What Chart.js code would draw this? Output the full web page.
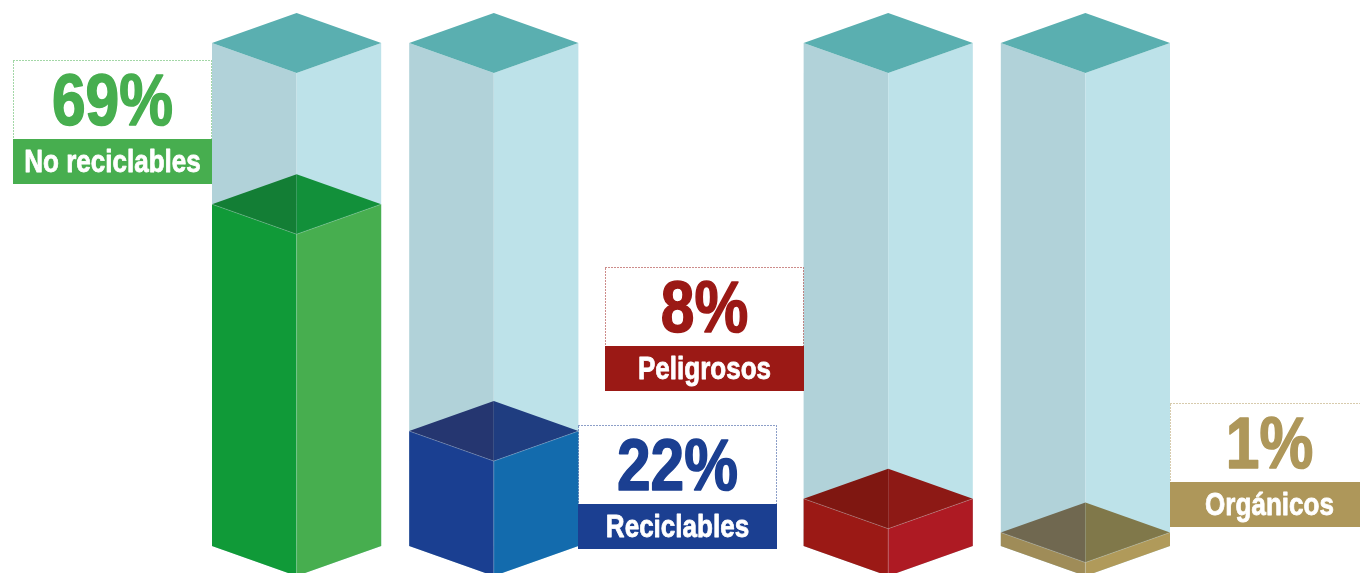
<!DOCTYPE html>
<html>
<head>
<meta charset="utf-8">
<script src="https://cdn.jsdelivr.net/npm/chart.js@4/dist/chart.umd.min.js"></script>
<style>
    html, body { margin: 0; padding: 0; background: #ffffff; }
    #waste_chart { display: block; }
</style>
</head>
<body>
<canvas id="waste_chart" width="1360" height="573"></canvas>
<script>
// data
const categories = ['No reciclables', 'Reciclables', 'Peligrosos', 'Orgánicos'];
const percent_values = [69, 22, 8, 1];
const label_sides = ['left', 'right', 'left', 'right'];

// colours per column: [top left, top right, front left, front right, label]
const column_colors = [
    ['#137e35', '#12903a', '#109a38', '#47ae4f', '#47ae4f'],
    ['#253670', '#1f3d80', '#1a3f91', '#136bad', '#1b3f91'],
    ['#7f1711', '#8d1915', '#9b1915', '#ae1a23', '#9b1915'],
    ['#706850', '#80784a', '#9f8c58', '#b09a5a', '#ae975a']
];
const glass_left = '#b1d2d9';
const glass_right = '#bde2e9';
const glass_top = '#5aafb0';

// label box tops in px (layout only)
const label_tops = [60, 425, 267, 403];

// chart labels with an empty slot between the two pairs of columns
const chart_labels = [categories[0], categories[1], '', categories[2], categories[3]];
const chart_values = [percent_values[0], percent_values[1], null, percent_values[2], percent_values[3]];

const depth = 30;

function fill_poly(ctx, points, color) {
    ctx.beginPath();
    ctx.moveTo(points[0][0], points[0][1]);
    for (let i = 1; i < points.length; i++) {
        ctx.lineTo(points[i][0], points[i][1]);
    }
    ctx.closePath();
    ctx.fillStyle = color;
    ctx.fill();
}

function draw_text(ctx, text, x, y, size, color, weight_px) {
    ctx.save();
    ctx.textAlign = 'center';
    ctx.textBaseline = 'alphabetic';
    ctx.fillStyle = color;
    ctx.strokeStyle = color;
    ctx.lineWidth = weight_px;
    ctx.lineJoin = 'round';
    ctx.font = 'bold ' + size + 'px "Liberation Sans", Arial, sans-serif';
    ctx.translate(x, y);
    ctx.scale(0.84, 1);
    ctx.fillText(text, 0, 0);
    ctx.strokeText(text, 0, 0);
    ctx.restore();
}

function draw_label(ctx, box_left, box_top, color, percent_text, name_text) {
    const box_width = 199;
    const dotted_height = 79;
    const solid_height = 45;
    const cx = box_left + box_width / 2;

    ctx.save();
    ctx.strokeStyle = color;
    ctx.lineWidth = 1;
    ctx.setLineDash([1, 2]);
    ctx.strokeRect(box_left + 0.5, box_top + 0.5, box_width - 1, dotted_height);
    ctx.restore();

    ctx.fillStyle = color;
    ctx.fillRect(box_left, box_top + dotted_height, box_width, solid_height);

    draw_text(ctx, percent_text, cx, box_top + 65, 72, color, 1.6);
    draw_text(ctx, name_text, cx, box_top + dotted_height + 33, 31, '#ffffff', 0.8);
}

const column_plugin = {
    id: 'column_plugin',
    afterDatasetsDraw(chart) {
        const ctx = chart.ctx;
        const y_scale = chart.scales.y;
        const top = y_scale.getPixelForValue(y_scale.max);
        const bottom = y_scale.getPixelForValue(y_scale.min);
        const meta = chart.getDatasetMeta(0);

        let col = 0;
        meta.data.forEach(function (bar, index) {
            if (chart_values[index] === null) return;
            const colors = column_colors[col];
            const p = bar.getProps(['x', 'y', 'width'], true);
            const left = p.x - p.width / 2;
            const right = p.x + p.width / 2;
            const x = p.x;
            const y = p.y;

            // glass
            fill_poly(ctx, [[left, top], [x, top + depth], [x, bottom + depth], [left, bottom]], glass_left);
            fill_poly(ctx, [[x, top + depth], [right, top], [right, bottom], [x, bottom + depth]], glass_right);

            // filled part
            fill_poly(ctx, [[left, y], [x, y + depth], [x, bottom + depth], [left, bottom]], colors[2]);
            fill_poly(ctx, [[x, y + depth], [right, y], [right, bottom], [x, bottom + depth]], colors[3]);
            fill_poly(ctx, [[left, y], [x, y - depth], [x, y + depth]], colors[0]);
            fill_poly(ctx, [[x, y - depth], [right, y], [x, y + depth]], colors[1]);

            ctx.save();
            ctx.strokeStyle = 'rgba(255,255,255,0.22)';
            ctx.lineWidth = 1;
            ctx.beginPath();
            ctx.moveTo(left, y);
            ctx.lineTo(x, y + depth);
            ctx.lineTo(right, y);
            ctx.moveTo(x, y + depth);
            ctx.lineTo(x, bottom + depth);
            ctx.stroke();
            ctx.restore();

            // glass lid
            fill_poly(ctx, [[left, top], [x, top - depth], [right, top], [x, top + depth]], glass_top);

            // label box next to the column
            const box_left = label_sides[col] === 'left' ? left - 199 : right;
            draw_label(ctx, Math.round(box_left), label_tops[col], colors[4],
                percent_values[col] + '%', categories[col]);
            col++;
        });
    }
};

const waste_chart = document.getElementById('waste_chart');

new Chart(waste_chart, {
    type: 'bar',
    data: {
        labels: chart_labels,
        datasets: [{
            data: chart_values,
            backgroundColor: 'rgba(0,0,0,0)',
            borderWidth: 0,
            categoryPercentage: 1,
            barPercentage: 0.858
        }]
    },
    options: {
        responsive: false,
        devicePixelRatio: 1,
        animation: false,
        layout: {
            padding: { left: 198, right: 176, top: 43, bottom: 27 }
        },
        plugins: {
            legend: false,
            tooltip: { enabled: false }
        },
        scales: {
            x: { display: false },
            y: { display: false, min: -1.8, max: 102.4 }
        }
    },
    plugins: [column_plugin]
});
</script>
</body>
</html>
